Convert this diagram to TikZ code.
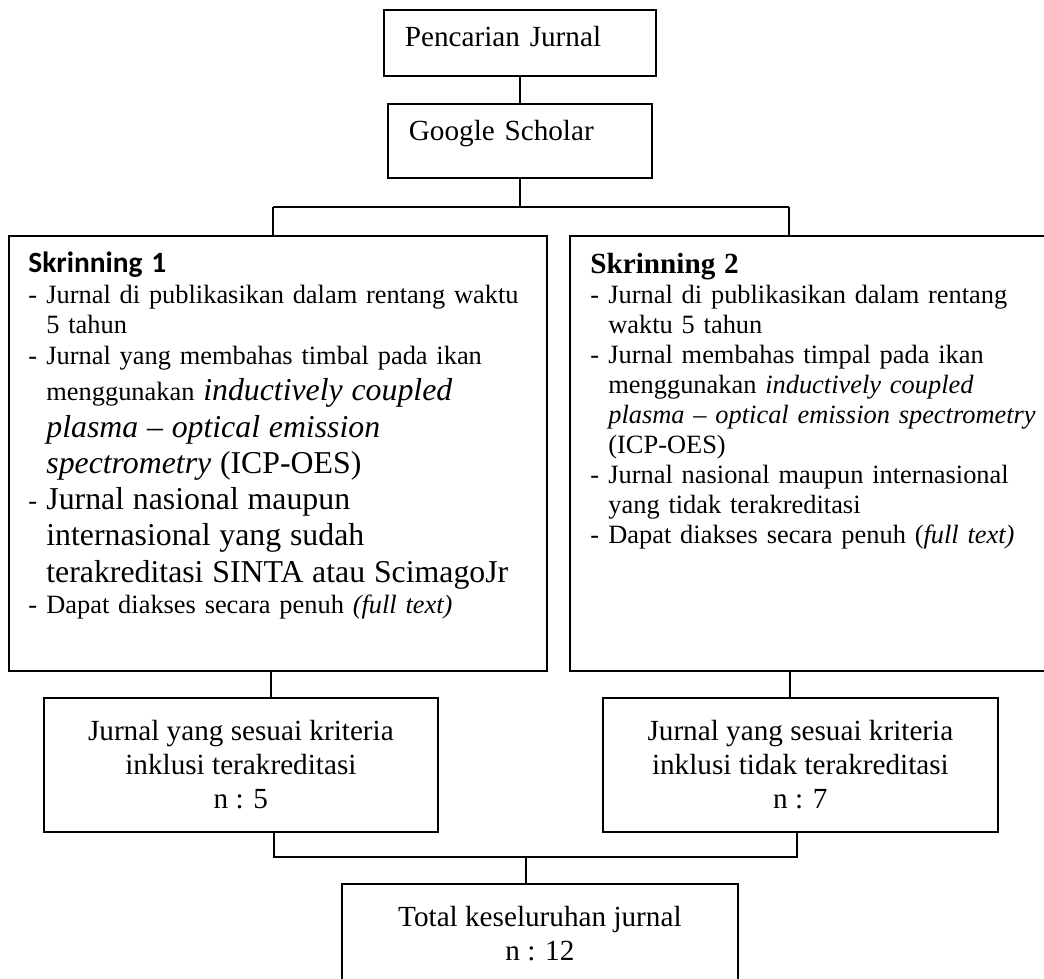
\documentclass[tikz,border=0pt]{standalone}
\usepackage{fontspec}
\setmainfont{Liberation Serif}
\newfontfamily\calibrifont{Carlito}
\usetikzlibrary{positioning}

% font sizes (1 unit = 1 px = 0.5pt)
\newcommand{\flowtxt}{\fontsize{14.6}{17}\selectfont}
\newcommand{\bodytxt}{\fontsize{13.2}{15}\selectfont}
\newcommand{\bigtxt}{\fontsize{15.9}{18.5}\selectfont}

% one line of a criteria list, with its own line skip
\newcommand{\itemline}[2][15pt]{\par\noindent\baselineskip=#1\relax\makebox[9pt][l]{-}#2}
\newcommand{\contline}[2][15pt]{\par\noindent\baselineskip=#1\relax\hspace*{9pt}#2}

\begin{document}
\begin{tikzpicture}[x=0.5pt, y=-0.5pt,
  frame/.style={draw, line width=0.9pt, inner sep=0pt, anchor=north west},
  top/.style={frame, align=left, inner xsep=10.5pt, font=\flowtxt, text height=10pt},
  flow/.style={frame, align=center, font=\flowtxt, minimum height=67pt},
  listtext/.style={inner sep=0pt, anchor=base west, text width=260pt, align=left, font=\bodytxt},
  link/.style={line width=0.6pt}]

  \useasboundingbox (0,0) rectangle (1044,979);

  % search boxes
  \node[top, text width=115pt, minimum height=33pt, text depth=6pt] (cari) at (383,9) {Pencarian Jurnal};
  \node[top, text width=111pt, minimum height=37pt, text depth=10pt] (scholar) at (387,103) {Google Scholar};

  % screening frames
  \node[frame, minimum width=269pt, minimum height=217.5pt] (skr1) at (8,235) {};
  \node[frame, minimum width=245pt, minimum height=217.5pt] (skr2) at (569,235) {};

  % screening texts
  \node[listtext] (skr1T) at (28,272) {%
    \parskip=0pt{\calibrifont\bfseries\fontsize{14.7}{17}\selectfont Skrinning 1}
    \itemline[15.5pt]{Jurnal di publikasikan dalam rentang waktu}
    \contline{5 tahun}
    \itemline[15.5pt]{Jurnal yang membahas timbal pada ikan}
    \contline[18pt]{menggunakan {\bigtxt\itshape inductively coupled}}
    \contline[18.5pt]{{\bigtxt\itshape plasma -- optical emission}}
    \contline[18pt]{{\bigtxt\itshape spectrometry} {\bigtxt (ICP-OES)}}
    \itemline[18pt]{{\bigtxt Jurnal nasional maupun}}
    \contline[18pt]{{\bigtxt internasional yang sudah}}
    \contline[18.5pt]{{\bigtxt terakreditasi SINTA atau ScimagoJr}}
    \itemline[15.5pt]{Dapat diakses secara penuh \textit{(full text)}}\par};
  \node[listtext] (skr2T) at (590,273) {%
    \parskip=0pt{\bfseries\fontsize{14.6}{17}\selectfont Skrinning 2}
    \itemline{Jurnal di publikasikan dalam rentang}
    \contline{waktu 5 tahun}
    \itemline{Jurnal membahas timpal pada ikan}
    \contline{menggunakan \textit{inductively coupled}}
    \contline{\textit{plasma -- optical emission spectrometry}}
    \contline{(ICP-OES)}
    \itemline{Jurnal nasional maupun internasional}
    \contline{yang tidak terakreditasi}
    \itemline{Dapat diakses secara penuh (\textit{full text)}}\par};

  % result boxes
  \node[flow, minimum width=197pt] (sesuai1) at (43,697) {Jurnal yang sesuai kriteria\\inklusi terakreditasi\\n : 5};
  \node[flow, minimum width=197.5pt] (sesuai2) at (602,697) {Jurnal yang sesuai kriteria\\inklusi tidak terakreditasi\\n : 7};
  \node[flow, minimum width=198pt, minimum height=50pt] (total) at (341,883) {Total keseluruhan jurnal\\n : 12};

  % branch points
  \coordinate (bL) at (273,207);
  \coordinate (bR) at (789,207);
  \coordinate (dL) at (271,0);
  \coordinate (dR) at (790,0);
  \coordinate (jL) at (274,857);
  \coordinate (jR) at (797,857);
  \coordinate (jM) at (526,857);

  % edges
  \draw[link] (cari.south) -- (scholar.north);
  \draw[link] (scholar.south) -- (scholar.south |- bL);
  \draw[link] (bL) -- (bR);
  \draw[link] (bL) -- (bL |- skr1.north);
  \draw[link] (bR) -- (bR |- skr2.north);
  \draw[link] (skr1.south -| dL) -- (sesuai1.north -| dL);
  \draw[link] (skr2.south -| dR) -- (sesuai2.north -| dR);
  \draw[link] (sesuai1.south -| jL) -- (jL) -- (jR) -- (sesuai2.south -| jR);
  \draw[link] (jM) -- (jM |- total.north);
\end{tikzpicture}
\end{document}
